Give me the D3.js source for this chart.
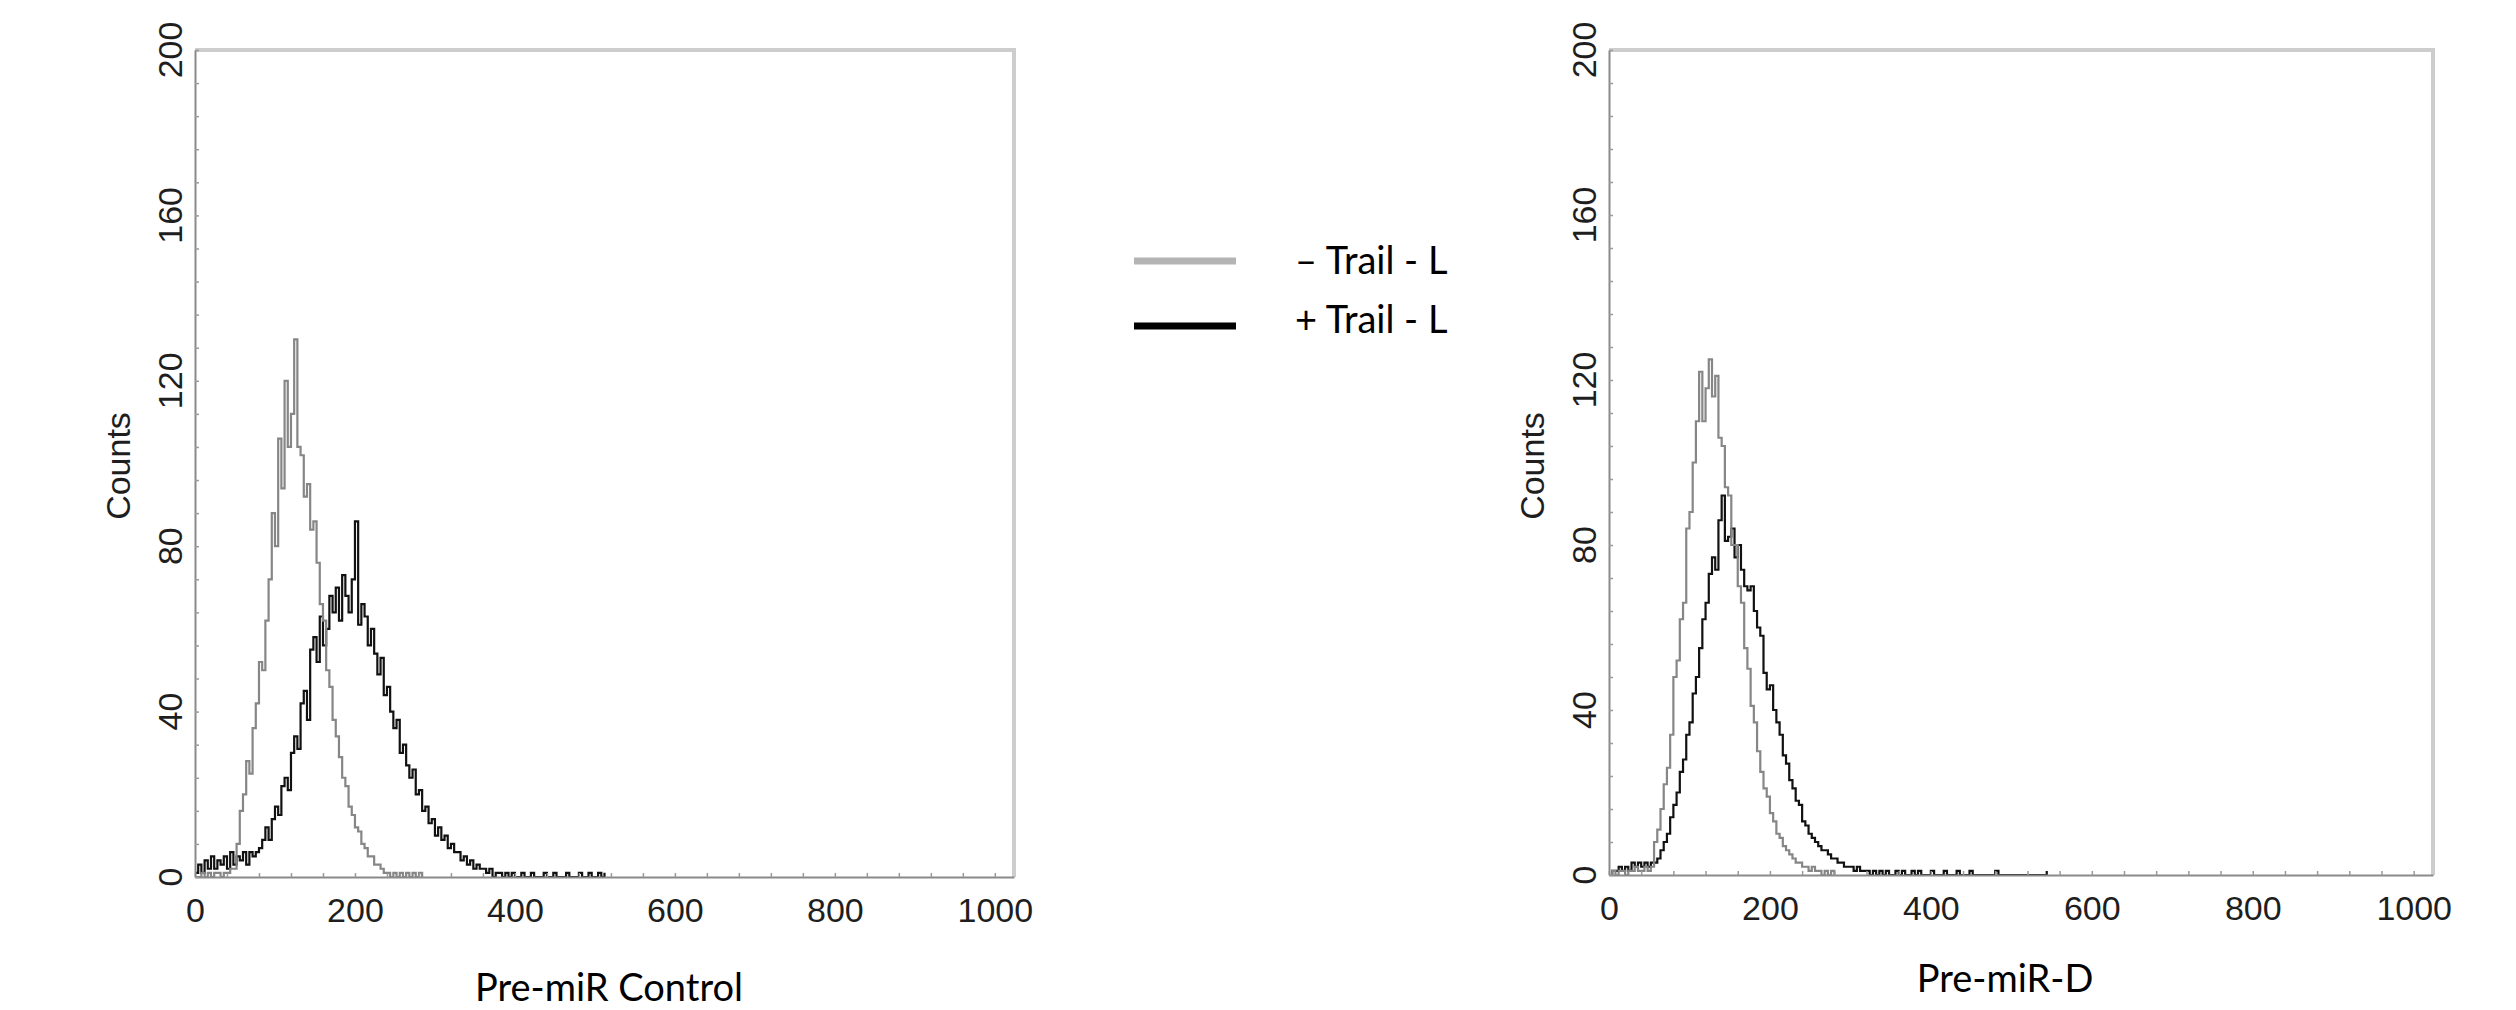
<!DOCTYPE html>
<html>
<head>
<meta charset="utf-8">
<script src="https://cdn.jsdelivr.net/npm/d3@7"></script>
<style>
  body { margin: 0; background: #fff; }
  svg { display: block; }
  .tick-label { font-family: "Liberation Sans", Arial, sans-serif; font-size: 34px; fill: #1e1e1e; }
  .cap { font-family: Lato, "Open Sans", sans-serif; font-size: 38px; fill: #000; }
</style>
</head>
<body>
<svg id="chart" width="2516" height="1010"></svg>
<script>
// flow histograms, counts per 4-channel bin starting at channel 0
const binWidth = 4;

// Pre-miR Control, untreated (grey)
const ctrlMinus = [0, 0, 1, 0, 1, 0, 1, 1, 0, 1, 1, 2, 2,
  8, 16, 20, 28, 25, 36, 42, 52, 50, 62, 72, 88, 80, 106, 94, 120, 104, 112, 130, 104,
  102, 92, 95, 84, 86, 76, 66, 62, 50, 46, 38, 34, 29, 24, 22, 17, 15, 12, 11, 8, 7, 5,
  5, 3, 3, 2, 1, 1, 0, 1, 0, 1, 0, 1, 0, 1, 0, 1, 0];

// Pre-miR Control, + Trail-L (black)
const ctrlPlus = [1, 3, 1, 4, 2, 5, 2, 4, 3, 5, 2, 6, 3, 5, 4, 6, 3, 6, 5, 6,
  7, 9, 12, 9, 14, 17, 15, 22, 24, 21, 30, 34, 31, 42, 45, 38, 55, 58, 52, 63, 56, 60,
  68, 64, 70, 62, 73, 68, 64, 72, 86, 61, 66, 63, 56, 60, 54, 49, 53, 44, 46, 40, 36,
  38, 30, 32, 27, 24, 26, 20, 21, 16, 17, 13, 14, 10, 12, 9, 10, 7, 8, 6, 6, 4, 5, 3,
  4, 2, 3, 2, 2, 1, 2, 0, 1, 1, 0,
  1, 0, 1, 0, 0, 1, 0, 0, 1, 0, 0, 0, 1, 0, 0, 1, 0, 0, 0, 1, 0, 0, 0, 1, 0, 0, 1, 0, 0,
  1, 0, 1];

// Pre-miR-D, untreated (grey)
const dMinus = [0, 1, 0, 1, 1, 0, 1, 1, 2, 1, 1, 2, 1, 2,
  8, 11, 16, 22, 26, 34, 48, 52, 62, 66, 84, 88, 100, 110, 122, 110, 118, 125, 116, 121,
  106, 104, 94, 92, 80, 80, 70, 66, 55, 50, 41, 37, 30, 25, 21, 19, 15, 13, 10, 9, 7, 6,
  5, 4, 3, 3, 2, 2, 1, 2, 1, 1, 0, 1, 0, 1, 0];

// Pre-miR-D, + Trail-L (black)
const dPlus = [0, 1, 1, 2, 1, 2, 1, 3, 2, 3, 2, 3, 2, 3, 3, 4,
  6, 8, 10, 14, 17, 20, 25, 28, 34, 37, 44, 48, 55, 62, 66, 73, 77, 74, 86, 92, 81, 82,
  84, 77, 80, 74, 70, 69, 70, 64, 60, 58, 49, 45, 46, 40, 37, 34, 29, 27, 23, 21, 18,
  17, 13, 12, 10, 9, 8, 7, 6, 6, 5, 4, 4, 3, 3, 2, 2, 2, 1, 2,
  1, 1, 1, 0, 1, 0, 1, 0, 1, 0, 0, 1, 0, 1, 0, 0, 1, 0, 1, 0, 0, 0, 1, 0, 0, 0, 1, 0, 0,
  0, 1, 0, 0, 0, 1, 0, 0, 0, 0, 0, 0, 0, 1, 0, 0, 0, 0, 0, 0, 0, 0, 0, 0, 0, 0, 0, 0, 0, 1];

const xMajor = [0, 200, 400, 600, 800, 1000];
const yMajor = [0, 40, 80, 120, 160, 200];

const legendItems = ["– Trail - L", "+ Trail - L"];
const legendColors = ["#b4b4b4", "#000000"];

const panels = [
  { title: "Pre-miR Control", minus: ctrlMinus, plus: ctrlPlus,
    left: 195, right: 1014, top: 50, bottom: 877 },
  { title: "Pre-miR-D", minus: dMinus, plus: dPlus,
    left: 1609, right: 2433, top: 50, bottom: 875 }
];

const svg = d3.select("#chart");
svg.append("rect").attr("width", 2516).attr("height", 1010).attr("fill", "#fff");

function toBins(counts) {
  return counts.map((c, i) => ({ ch: i * binWidth, c: c }));
}

function drawPanel(p, idx) {
  const x = d3.scaleLinear().domain([0, 1024]).range([p.left, p.right]);
  const y = d3.scaleLinear().domain([0, 200]).range([p.bottom, p.top]);
  const g = svg.append("g").attr("class", "panel-" + idx);

  // light frame on top / right
  g.append("path")
    .attr("d", `M${p.left},${p.top}H${p.right}V${p.bottom}`)
    .attr("fill", "none")
    .attr("stroke", "#cdcdcd")
    .attr("stroke-width", 4);

  const line = d3.line()
    .x(d => x(d.ch))
    .y(d => y(d.c))
    .curve(d3.curveStepAfter);

  g.append("path")
    .datum(toBins(p.plus))
    .attr("d", line)
    .attr("fill", "none")
    .attr("stroke", "#111")
    .attr("stroke-width", 2.2);

  g.append("path")
    .datum(toBins(p.minus))
    .attr("d", line)
    .attr("fill", "none")
    .attr("stroke", "#868686")
    .attr("stroke-width", 2.2);

  // axes, ticks point inward
  const xAxis = d3.axisBottom(x)
    .tickValues(d3.range(0, 1001, 40))
    .tickSizeInner(-4).tickSizeOuter(0)
    .tickPadding(21)
    .tickFormat(d => xMajor.includes(d) ? d : "");
  const gx = g.append("g").attr("transform", `translate(0,${p.bottom})`).call(xAxis);

  const yAxis = d3.axisLeft(y)
    .tickValues(d3.range(0, 201, 8))
    .tickSizeInner(-4).tickSizeOuter(0)
    .tickFormat("");
  const gy = g.append("g").attr("transform", `translate(${p.left},0)`).call(yAxis);

  [gx, gy].forEach(a => {
    a.select(".domain").attr("stroke", "#8a8a8a").attr("stroke-width", 2);
    a.selectAll(".tick line").attr("stroke", "#9a9a9a").attr("stroke-width", 1.5);
  });
  gx.selectAll(".tick text").attr("class", "tick-label").attr("font-size", null).attr("font-family", null);

  g.selectAll(".ylab")
    .data(yMajor)
    .join("text")
    .attr("class", "tick-label")
    .attr("text-anchor", "middle")
    .attr("dominant-baseline", "central")
    .attr("transform", d => `translate(${p.left - 25},${y(d)}) rotate(-90)`)
    .text(d => d);

  g.append("text")
    .attr("class", "tick-label")
    .attr("text-anchor", "middle")
    .attr("dominant-baseline", "central")
    .attr("transform", `translate(${p.left - 77},466) rotate(-90)`)
    .text("Counts");

  g.append("text")
    .attr("class", "cap")
    .attr("text-anchor", "middle")
    .attr("x", idx === 0 ? 609 : 2005)
    .attr("y", idx === 0 ? 1001 : 992)
    .text(p.title);
}

panels.forEach(drawPanel);

// legend between the panels
const ly = d3.scalePoint().domain(legendItems).range([261, 326]);
const legend = svg.append("g").attr("class", "legend");
legend.selectAll("line")
  .data(legendItems)
  .join("line")
  .attr("x1", 1134).attr("x2", 1236)
  .attr("y1", d => ly(d)).attr("y2", d => ly(d))
  .attr("stroke", (d, i) => legendColors[i])
  .attr("stroke-width", 7);
legend.selectAll("text")
  .data(legendItems)
  .join("text")
  .attr("class", "cap")
  .attr("x", 1295)
  .attr("y", (d, i) => ly(d) - (i === 0 ? 2 : 8))
  .attr("dominant-baseline", "central")
  .text(d => d);
</script>
</body>
</html>
